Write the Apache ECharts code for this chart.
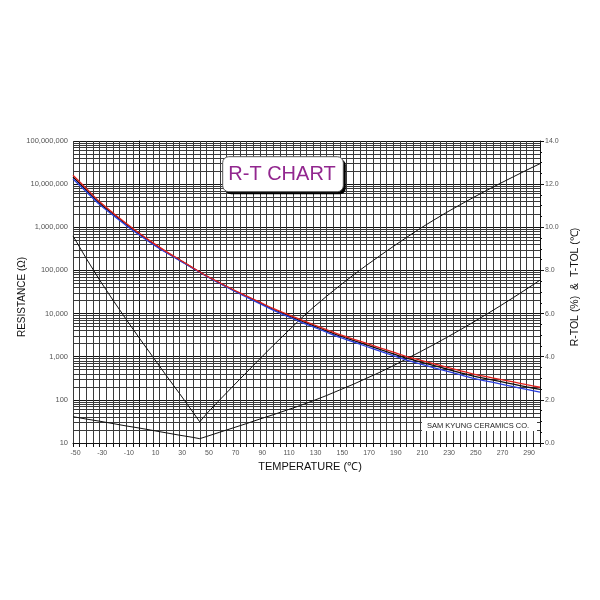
<!DOCTYPE html>
<html><head><meta charset="utf-8">
<script src="https://cdn.jsdelivr.net/npm/echarts@6/dist/echarts.min.js"></script>
<style>html,body{margin:0;padding:0;background:#fff}#c{width:600px;height:600px}</style>
</head><body><div id="c"></div>
<script>
// ---- data ----
const temps = [-50,-40,-30,-20,-10,0,10,20,30,40,50,60,70,80,90,100,110,120,130,140,150,160,170,180,190,200,210,220,230,240,250,260,270,280,290,300];
const resNominal = [14600000,7280000,3620000,2020000,1160000,686000,418000,265000,173000,113000,74500,50800,35200,24900,17700,12600,9330,6920,5250,3980,3020,2380,1880,1480,1170,923,759,627,519,429,355,308,267,231,200,174];
const resUpper = [16000000,7900000,3890000,2150000,1230000,719000,435000,273000,177000,114600,75500,51800,36100,25700,18400,13200,9810,7320,5580,4250,3240,2565,2035,1610,1277,1011,834,692,574,476,395,344,299,260,225,196];
const resLower = [13200000,6660000,3350000,1890000,1090000,653000,401000,257000,169000,111400,73500,49800,34300,24100,17000,12000,8850,6520,4920,3710,2800,2195,1725,1350,1063,835,684,562,464,382,315,272,235,202,175,151];
const tolTemps = [-50,-40,-30,-20,-10,0,10,20,30,40,45,50,60,70,80,90,100,110,120,130,140,150,160,170,180,190,200,210,220,230,240,250,260,270,280,290,300];
const rTol = [9.6,8.55,7.55,6.62,5.72,4.84,3.98,3.12,2.28,1.42,0.98,1.35,2.0,2.64,3.27,3.90,4.52,5.12,5.72,6.28,6.80,7.30,7.78,8.24,8.68,9.11,9.53,9.94,10.32,10.69,11.04,11.38,11.71,12.03,12.34,12.65,12.95];
const tTol = [1.22,1.11,1.01,0.90,0.79,0.69,0.58,0.47,0.36,0.26,0.20,0.30,0.50,0.70,0.90,1.11,1.31,1.52,1.73,1.96,2.20,2.46,2.72,3.00,3.28,3.58,3.90,4.22,4.55,4.89,5.24,5.60,5.97,6.35,6.74,7.14,7.55];
const xTickLabels = [-50,-30,-10,10,30,50,70,90,110,130,150,170,190,210,230,250,270,290];
const yLeftTicks = [10,100,1000,10000,100000,1000000,10000000,100000000];
const yRightTicks = [0,2,4,6,8,10,12,14];
const titleText = 'R-T CHART';
const companyText = 'SAM KYUNG CERAMICS CO.';

// ---- styling / layout ----
const FONT = 'Liberation Sans, Arial, sans-serif';
const GRID = '#3a3a3a';
const LBL = '#555';
const G = {left: 73, top: 141, width: 467, height: 302};

// minor log grid positions (2..9 x 10^n)
const minorVals = [];
for (let d = 10; d < 1e8; d *= 10) for (let m = 2; m <= 9; m++) minorVals.push(m * d);

const zip = (xs, ys) => xs.map((x, i) => [x, ys[i]]);

const chart = echarts.init(document.getElementById('c'), null, {renderer: 'canvas'});
chart.setOption({
  animation: false,
  backgroundColor: '#fff',
  textStyle: {fontFamily: FONT},
  grid: {left: G.left, top: G.top, width: G.width, height: G.height, containLabel: false},
  xAxis: {
    type: 'value', min: -50, max: 300, interval: 5,
    axisLine: {show: true, onZero: false, lineStyle: {color: '#111', width: 1}},
    axisTick: {show: true, length: 4, interval: 0, lineStyle: {color: '#111'}},
    splitLine: {show: true, lineStyle: {color: GRID, width: 1}},
    axisLabel: {
      interval: 0, hideOverlap: false, margin: 7, fontSize: 7, color: LBL, fontFamily: FONT,
      padding: [0, 0, 0, 5],
      formatter: v => xTickLabels.indexOf(v) >= 0 ? String(v) : ''
    }
  },
  yAxis: [{
    type: 'log', logBase: 10, min: yLeftTicks[0], max: yLeftTicks[yLeftTicks.length - 1],
    position: 'left',
    axisLine: {show: true, lineStyle: {color: '#111', width: 1}},
    axisTick: {show: true, length: 4, lineStyle: {color: '#111'}},
    splitLine: {show: true, lineStyle: {color: '#111', width: 1}},
    axisLabel: {margin: 5, fontSize: 7.5, color: LBL, fontFamily: FONT,
      formatter: v => Math.round(v).toLocaleString('en-US')}
  }, {
    type: 'value', min: yRightTicks[0], max: yRightTicks[yRightTicks.length - 1], interval: 2,
    position: 'right',
    axisLine: {show: true, lineStyle: {color: '#111', width: 1}},
    axisTick: {show: true, length: 4, lineStyle: {color: '#111'}},
    minorTick: {show: true, splitNumber: 4, length: 2, lineStyle: {color: '#111'}},
    splitLine: {show: false},
    axisLabel: {margin: 5, fontSize: 7, color: LBL, fontFamily: FONT, formatter: v => v.toFixed(1)}
  }],
  series: [
    {
      name: 'R nominal', type: 'line', xAxisIndex: 0, yAxisIndex: 0, z: 3,
      data: zip(temps, resNominal), showSymbol: false, symbol: 'none', smooth: 0.3,
      lineStyle: {color: '#111', width: 1.3},
      markLine: {
        silent: true, z: 1, symbol: ['none', 'none'], label: {show: false}, animation: false,
        emphasis: {disabled: true},
        lineStyle: {color: GRID, width: 1, type: 'solid'},
        data: minorVals.map(v => ({yAxis: v}))
      }
    },
    {name: 'R lower', type: 'line', xAxisIndex: 0, yAxisIndex: 0, z: 4,
      data: zip(temps, resLower), showSymbol: false, symbol: 'none', smooth: 0.3,
      lineStyle: {color: '#2b3fe0', width: 1.3}},
    {name: 'R upper', type: 'line', xAxisIndex: 0, yAxisIndex: 0, z: 5,
      data: zip(temps, resUpper), showSymbol: false, symbol: 'none', smooth: 0.3,
      lineStyle: {color: '#e0201c', width: 1.3}},
    {name: 'R-TOL', type: 'line', xAxisIndex: 0, yAxisIndex: 1, z: 3,
      data: zip(tolTemps, rTol), showSymbol: false, symbol: 'none',
      lineStyle: {color: '#111', width: 1}},
    {name: 'T-TOL', type: 'line', xAxisIndex: 0, yAxisIndex: 1, z: 3,
      data: zip(tolTemps, tTol), showSymbol: false, symbol: 'none',
      lineStyle: {color: '#111', width: 1}}
  ],
  graphic: [
    {type: 'text', x: 22, y: 297, rotation: Math.PI / 2, z: 10,
      style: {text: 'RESISTANCE (Ω)', fill: '#111', font: '10px ' + FONT, align: 'center', verticalAlign: 'middle'}},
    {type: 'text', x: 575, y: 287, rotation: Math.PI / 2, z: 10,
      style: {text: 'R-TOL (%)  &  T-TOL (℃)', fill: '#111', font: '10.5px ' + FONT, align: 'center', verticalAlign: 'middle'}},
    {type: 'text', x: 310, y: 467, z: 10,
      style: {text: 'TEMPERATURE (℃)', fill: '#111', font: '11px ' + FONT, align: 'center', verticalAlign: 'middle'}},
    {type: 'rect', z: 10, shape: {x: 225.2, y: 159.2, width: 120.6, height: 35, r: 6}, style: {fill: '#000'}},
    {type: 'rect', z: 11, shape: {x: 222.7, y: 156.7, width: 120.6, height: 35, r: 6}, style: {fill: '#fff', stroke: '#555', lineWidth: 1}},
    {type: 'text', x: 282, y: 174.5, z: 12,
      style: {text: titleText, fill: '#92278f', font: '20px ' + FONT, align: 'center', verticalAlign: 'middle'}},
    {type: 'rect', z: 10, shape: {x: 422, y: 418, width: 115, height: 13}, style: {fill: '#fff'}},
    {type: 'text', x: 478, y: 425.5, z: 11,
      style: {text: companyText, fill: '#222', font: '7.5px ' + FONT, align: 'center', verticalAlign: 'middle'}}
  ]
});
</script>
</body></html>
